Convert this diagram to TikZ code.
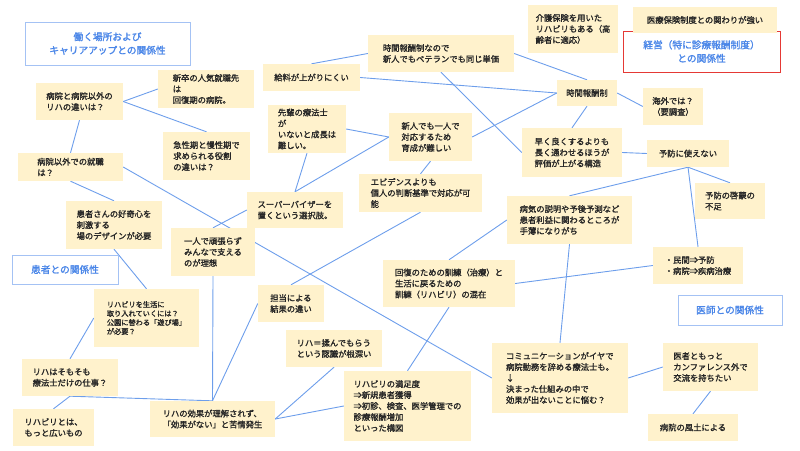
\documentclass[tikz,border=0pt]{standalone}
\usepackage{fontspec}
\setmainfont{Noto Sans CJK JP}[BoldFont=Noto Sans CJK JP,BoldFeatures={FakeBold=1.6}]
\usepackage{xcolor}
\usepackage{tikz}
\usetikzlibrary{backgrounds}
\definecolor{notefill}{HTML}{FFF2CC}
\definecolor{linkblue}{HTML}{6D9EEB}
\definecolor{themeblue}{HTML}{4A86E8}
\definecolor{themeline}{HTML}{A4C2F4}
\definecolor{themered}{HTML}{E53935}
\tikzset{sz/.style 2 args={minimum width=#1pt,minimum height=#2pt}}

\begin{document}
\begin{tikzpicture}[
  x=1pt,y=-1pt,
  font=\bfseries\fontsize{8.3}{11}\selectfont,
  note/.style={fill=notefill,align=left,inner xsep=5pt,inner ysep=3pt,text=black!85},
  theme/.style={draw=themeline,fill=white,align=center,line width=1pt,text=themeblue,
    font=\bfseries\fontsize{9.7}{13.5}\selectfont},
  link/.style={draw=linkblue,line width=0.9pt}
]
\useasboundingbox (0,0) rectangle (800,450);
\node[theme,sz={165}{43}] (wp) at (107.5,43.5) {働く場所および\\キャリアアップとの関係性};
\node[theme,draw=themered,sz={157}{41}] (mg) at (701.5,51.5) {経営（特に診療報酬制度）\\との関係性};
\node[theme,sz={106}{29}] (pt) at (65,269.5) {患者との関係性};
\node[theme,sz={104}{30}] (dr) at (730,310) {医師との関係性};

\node[note,sz={87}{37}] (ch) at (79.5,101.5) {病院と病院以外の\\リハの違いは？};
\node[note,sz={96}{38}] (sn) at (206,89) {新卒の人気就職先\\は\\回復期の病院。};
\node[note,sz={87}{48}] (kk) at (206.5,156) {急性期と慢性期で\\求められる役割\\の違いは？};
\node[note,sz={97}{27}] (ky) at (311.5,77.5) {給料が上がりにくい};
\node[note,sz={146}{37}] (jn) at (441,53.5) {時間報酬制なので\\新人でもベテランでも同じ単価};
\node[note,sz={90}{48}] (kg) at (573,29) {介護保険を用いた\\リハビリもある（高\\齢者に適応）};
\node[note,sz={144}{26}] (ir) at (705,20) {医療保険制度との関わりが強い};
\node[note,sz={60}{26}] (jh) at (587,93) {時間報酬制};
\node[note,sz={60}{37}] (kw) at (673,106.5) {海外では？\\（要調査）};
\node[note,sz={100}{49}] (hy) at (572,152.5) {早く良くするよりも\\長く通わせるほうが\\評価が上がる構造};
\node[note,sz={82}{27}] (yb) at (688,153.5) {予防に使えない};
\node[note,sz={70}{36}] (yk) at (730,201) {予防の啓蒙の\\不足};
\node[note,sz={125}{48}] (bs) at (569.5,220) {病気の説明や予後予測など\\患者利益に関わるところが\\手薄になりがち};
\node[note,sz={90}{37}] (mk) at (698,265.5) {・民間⇒予防\\・病院⇒疾病治療};
\node[note,sz={95}{48}] (is) at (710.5,367) {医者ともっと\\カンファレンス外で\\交流を持ちたい};
\node[note,sz={90}{27}] (fu) at (693,427.5) {病院の風土による};
\node[note,sz={136}{70}] (cm) at (560,378) {コミュニケーションがイヤで\\病院勤務を辞める療法士も。\\↓\\決まった仕組みの中で\\効果が出ないことに悩む？};
\node[note,sz={127}{70}] (mz) at (407.5,406) {リハビリの満足度\\⇒新規患者獲得\\⇒初診、検査、医学管理での\\診療報酬増加\\といった構図};
\node[note,sz={96}{37}] (mo) at (334,348.5) {リハ＝揉んでもらう\\という認識が根深い};
\node[note,sz={66}{37}] (tt) at (291,303.5) {担当による\\結果の違い};
\node[note,sz={132}{47}] (kf) at (449,283.5) {回復のための訓練（治療）と\\生活に戻るための\\訓練（リハビリ）の混在};
\node[note,sz={123}{38}] (eb) at (420.5,193) {エビデンスよりも\\個人の判断基準で対応が可\\能};
\node[note,sz={83}{48}] (sr) at (430.5,137) {新人でも一人で\\対応するため\\育成が難しい};
\node[note,sz={78}{48}] (sp) at (307,129) {先輩の療法士\\が\\いないと成長は\\難しい。};
\node[note,sz={96}{36}] (sv) at (295,210) {スーパーバイザーを\\置くという選択肢。};
\node[note,sz={84}{48}] (hi) at (213,252) {一人で頑張らず\\みんなで支える\\のが理想};
\node[note,sz={105}{28}] (ig) at (70.5,167) {病院以外での就職\\は？};
\node[note,sz={96}{48}] (ks) at (114,225) {患者さんの好奇心を\\刺激する\\場のデザインが必要};
\node[note,sz={105}{58},font=\bfseries\fontsize{7.2}{9}\selectfont] (rs) at (146.5,318) {リハビリを生活に\\取り入れていくには？\\公園に替わる「遊び場」\\が必要？};
\node[note,sz={96}{37}] (rt) at (70,377.5) {リハはそもそも\\療法士だけの仕事？};
\node[note,sz={81}{37}] (rw) at (53.5,427.5) {リハビリとは、\\もっと広いもの};
\node[note,sz={125}{36}] (rk) at (212.5,419) {リハの効果が理解されず、\\「効果がない」と苦情発生};

\begin{pgfonlayer}{background}
\draw[link] (ch.east) -- (sn.west);
\draw[link] (ch.east) -- (kk.north);
\draw[link] (ch.south) -- (ig.north);
\draw[link] (ig.east) -- (cm.west);
\draw[link] (ig.south) -- (ks.north);
\draw[link] (ks.south) -- (rs.north);
\draw[link] (rs.west) -- (rt.north);
\draw[link] (rt.south) -- (rw.north);
\draw[link] (rt.south) -- (rk.north);
\draw[link] (rk.north) -- (hi.south);
\draw[link] (rk.north) -- (tt.west);
\draw[link] (rk.east) -- (mo.south);
\draw[link] (rk.east) -- (mz.west);
\draw[link] (tt.north) -- (eb.south);
\draw[link] (mz.north) -- (kf.south);
\draw[link] (kf.east) -- (mk.west);
\draw[link] (kf.north) -- (bs.west);
\draw[link] (bs.south) -- (cm.north);
\draw[link] (bs.north) -- (yb.south);
\draw[link] (yb.south) -- (mk.north);
\draw[link] (yb.south) -- (yk.north);
\draw[link] (hy.east) -- (yb.west);
\draw[link] (jh.south) -- (hy.north);
\draw[link] (jh.east) -- (kw.west);
\draw[link] (jn.east) -- (jh.north);
\draw[link] (ky.east) -- (jh.west);
\draw[link] (sr.east) -- (jh.west);
\draw[link] (jn.south) -- (hy.west);
\draw[link] (ky.north) -- (jn.west);
\draw[link] (sp.east) -- (sr.west);
\draw[link] (sr.west) -- (sv.north);
\draw[link] (sp.south) -- (sv.north);
\draw[link] (sr.south) -- (eb.north);
\draw[link] (sv.west) -- (hi.north);
\draw[link] (cm.east) -- (is.west);
\draw[link] (is.south) -- (fu.north);
\end{pgfonlayer}
\end{tikzpicture}
\end{document}
